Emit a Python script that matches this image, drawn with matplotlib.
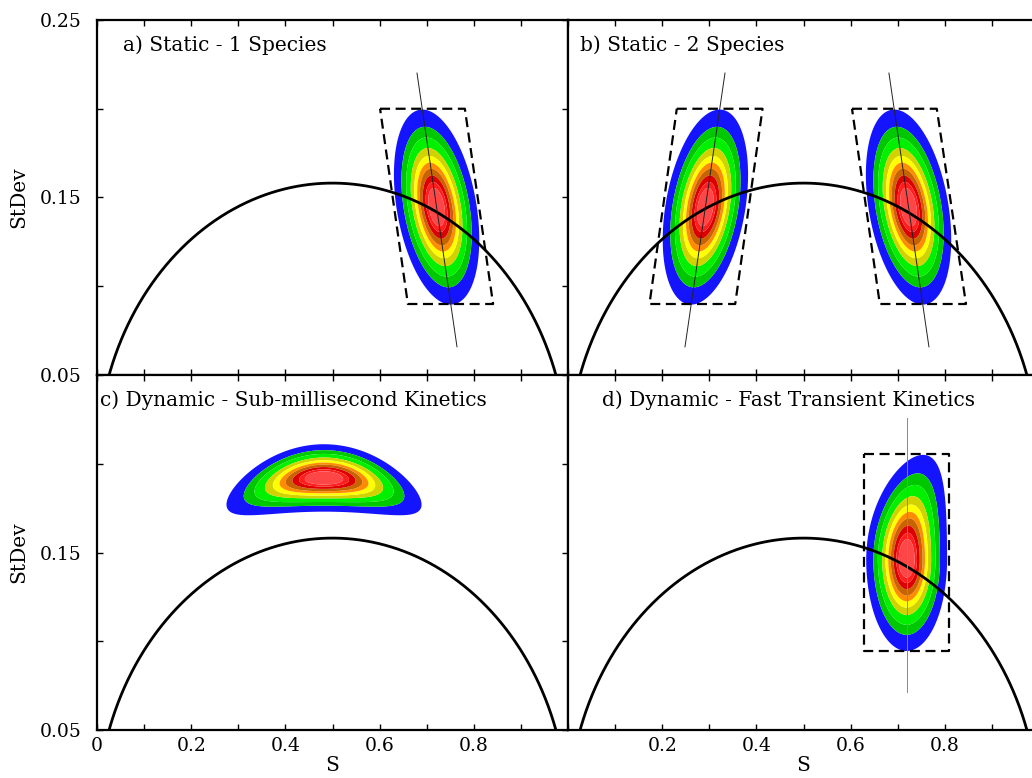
import numpy as np
import matplotlib
matplotlib.use('Agg')
import matplotlib.pyplot as plt

plt.rcParams['font.family'] = 'DejaVu Serif'

# contour levels (fraction of peak height) and the fill colour of each band
levels = [0.10, 0.21, 0.31, 0.43, 0.53, 0.62, 0.70, 0.785, 0.86, 0.915, 1.01]
fill_colors = ['#1414ff', '#00c800', '#00f000', '#d2d200', '#ffff00',
               '#ff8c00', '#c86400', '#dc0000', '#ff1e1e', '#ff4646']

titles = ['a) Static - 1 Species', 'b) Static - 2 Species',
          'c) Dynamic - Sub-millisecond Kinetics', 'd) Dynamic - Fast Transient Kinetics']
title_x = [0.055, 0.025, 0.006, 0.072]

# reference curve StDev = sqrt(S (1 - S) / N)
n_ref = 10

# static peaks: (S centre, StDev centre, sigma across, sigma along, shear dS/dStDev)
peaks_a = [(0.721, 0.1446, 0.0398, 0.0256, -0.55)]
peaks_b = [(0.2917, 0.1446, 0.0398, 0.0256, 0.55),
           (0.723, 0.1446, 0.0398, 0.0256, -0.55)]
# sub-ms kinetics: (S centre, StDev centre, sigma S, sigma StDev, bend)
peak_c = (0.482, 0.192, 0.0965, 0.00885, 0.35)
# fast transient: (S centre, StDev centre, sigma S, sigma up, sigma down, skew)
peak_d = (0.719, 0.146, 0.040, 0.0275, 0.024, 10.0)

# dashed boxes: corners (S, StDev)
box_a = [(0.601, 0.20), (0.781, 0.20), (0.841, 0.09), (0.660, 0.09)]
box_b1 = [(0.231, 0.20), (0.413, 0.20), (0.355, 0.09), (0.173, 0.09)]
box_b2 = [(0.603, 0.20), (0.783, 0.20), (0.845, 0.09), (0.662, 0.09)]
box_d = [(0.628, 0.2055), (0.809, 0.2055), (0.809, 0.0945), (0.628, 0.0945)]

# thin centre lines: (S start, StDev start, S end, StDev end)
line_a = (0.6794, 0.2201, 0.7643, 0.0659)
line_b1 = (0.3333, 0.2201, 0.2484, 0.0659)
line_b2 = (0.6814, 0.2201, 0.7663, 0.0659)
line_d = (0.719, 0.2258, 0.719, 0.0714)

x_ticks = [0, 0.1, 0.2, 0.3, 0.4, 0.5, 0.6, 0.7, 0.8, 0.9, 1.0]
x_labels_left = ['0', '', '0.2', '', '0.4', '', '0.6', '', '0.8', '', '']
x_labels_right = ['', '', '0.2', '', '0.4', '', '0.6', '', '0.8', '', '']
y_ticks = [0.05, 0.10, 0.15, 0.20, 0.25]
y_labels_top = ['0.05', '', '0.15', '', '0.25']
y_labels_bot = ['0.05', '', '0.15', '', '']

S, Y = np.meshgrid(np.linspace(0, 1, 700), np.linspace(0.05, 0.25, 500))


def sheared(p):
    s0, y0, su, sv, k = p
    u = S - s0 - k * (Y - y0)
    v = Y - y0
    return np.exp(-0.5 * ((u / su) ** 2 + (v / sv) ** 2))


def bent(p):
    s0, y0, su, sv, bend = p
    u = S - s0
    v = Y - (y0 - bend * u ** 2)
    return np.exp(-0.5 * ((u / su) ** 2 + (v / sv) ** 2))


def skewed(p):
    s0, y0, su, sv_up, sv_dn, skew = p
    v = Y - y0
    sv = np.where(v > 0, sv_up, sv_dn)
    u = S - s0 - skew * np.clip(v, 0, None) ** 2
    return np.exp(-0.5 * ((u / su) ** 2 + (v / sv) ** 2))


fields = [
    sheared(peaks_a[0]),
    np.maximum(sheared(peaks_b[0]), sheared(peaks_b[1])),
    bent(peak_c),
    skewed(peak_d),
]
boxes = [[box_a], [box_b1, box_b2], [], [box_d]]
lines = [[line_a], [line_b1, line_b2], [], [line_d]]
line_colors = ['#222222', '#222222', '#222222', '#888888']

fig = plt.figure(figsize=(10.32, 7.78), dpi=100)
W, H = 1032.0, 778.0
ax_w = 471 / W
ax_h = 355 / H
positions = [(97 / W, 1 - 375 / H), (568 / W, 1 - 375 / H),
             (97 / W, 1 - 730 / H), (568 / W, 1 - 730 / H)]

s_curve = np.linspace(0, 1, 600)
sd_curve = np.sqrt(s_curve * (1 - s_curve) / n_ref)

for i in range(4):
    ax = fig.add_axes([positions[i][0], positions[i][1], ax_w, ax_h])
    ax.contourf(S, Y, fields[i], levels=levels, colors=fill_colors, antialiased=True)
    ax.plot(s_curve, sd_curve, color='black', lw=2.0)
    for b in boxes[i]:
        bx = [c[0] for c in b] + [b[0][0]]
        by = [c[1] for c in b] + [b[0][1]]
        ax.plot(bx, by, color='black', lw=1.6, linestyle=(0, (4.5, 2.5)))
    for ln in lines[i]:
        ax.plot([ln[0], ln[2]], [ln[1], ln[3]], color=line_colors[i], lw=0.7)

    ax.set_xlim(0, 1)
    ax.set_ylim(0.05, 0.25)
    ax.set_xticks(x_ticks)
    ax.set_yticks(y_ticks)
    left_col = i in (0, 2)
    bottom_row = i in (2, 3)
    ax.tick_params(direction='in', top=True, right=True, left=left_col,
                   length=4, width=1.0, labelsize=13.5)
    ax.tick_params(axis='x', pad=5)
    ax.tick_params(axis='y', pad=11)
    if bottom_row:
        ax.set_xticklabels(x_labels_left if left_col else x_labels_right)
        ax.set_xlabel('S', fontsize=14.5, labelpad=1)
    else:
        ax.set_xticklabels([])
    if left_col:
        ax.set_yticklabels(y_labels_top if i == 0 else y_labels_bot)
        ax.set_ylabel('StDev', fontsize=14.5, labelpad=8)
    else:
        ax.set_yticklabels([])
    for sp in ax.spines.values():
        sp.set_linewidth(1.6)
    ax.text(title_x[i], 0.93, titles[i], transform=ax.transAxes,
            fontsize=14.5, va='center', ha='left')

fig.savefig('out.png', dpi=100)
